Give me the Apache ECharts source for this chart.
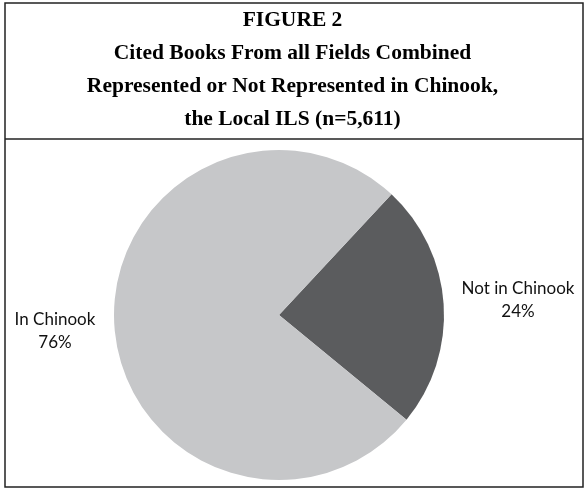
<!DOCTYPE html>
<html>
<head>
<meta charset="utf-8">
<script src="https://cdn.jsdelivr.net/npm/echarts@6/dist/echarts.min.js"></script>
<style>html,body{margin:0;padding:0;background:#fff;}#c{width:585px;height:489px;}</style>
</head>
<body>
<div id="c"></div>
<script>
var titleLines = ['FIGURE 2', 'Cited Books From all Fields Combined', 'Represented or Not Represented in Chinook,', 'the Local ILS (n=5,611)'];
var categories = ['Not in Chinook', 'In Chinook'];
var percents = [24, 76];
var colors = ['#5b5c5e', '#c6c7c9'];

var chart = echarts.init(document.getElementById('c'), null, {renderer: 'canvas'});
var labelPos = [[518, 300], [55, 331]];
chart.setOption({
  animation: false,
  title: {
    text: titleLines.join('\n'),
    left: 'center',
    top: -1,
    textStyle: {fontFamily: 'Liberation Serif', fontWeight: 'bold', fontSize: 21.5, lineHeight: 33, color: '#000'}
  },
  graphic: [
    {type: 'rect', shape: {x: 5, y: 3, width: 578, height: 484}, style: {fill: 'none', stroke: '#222', lineWidth: 1.5}, z: 10},
    {type: 'line', shape: {x1: 5, y1: 139, x2: 583, y2: 139}, style: {stroke: '#222', lineWidth: 1.5}, z: 10}
  ],
  series: [{
    type: 'pie',
    center: [279, 315],
    radius: 165,
    startAngle: 47,
    clockwise: true,
    data: categories.map(function (c, i) {
      return {name: c, value: percents[i], itemStyle: {color: colors[i]}};
    }),
    label: {
      show: true,
      formatter: '{b}\n{c}%',
      fontFamily: 'Lato',
      fontSize: 17,
      lineHeight: 23,
      color: '#111',
      align: 'center',
      overflow: 'none',
      width: 200
    },
    labelLine: {show: false},
    labelLayout: function (p) {
      var pos = labelPos[p.dataIndex];
      return {x: pos[0], y: pos[1], align: 'center', verticalAlign: 'middle'};
    },
    emphasis: {disabled: true}
  }]
});
</script>
</body>
</html>
